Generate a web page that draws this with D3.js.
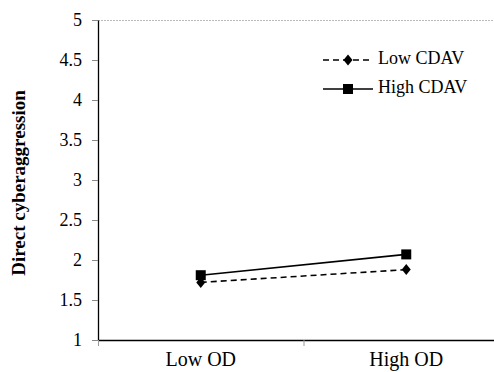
<!DOCTYPE html>
<html><head><meta charset="utf-8">
<script src="https://cdn.jsdelivr.net/npm/d3@7"></script>
<style>body{margin:0;background:#fff}svg{display:block}text{font-family:"Liberation Serif","Times New Roman",serif;fill:#000}</style>
</head><body><svg id="c" width="494" height="372"></svg>
<script>
const categories = ["Low OD", "High OD"];
const seriesNames = ["Low CDAV", "High CDAV"];
const lowCDAV = [1.72, 1.88];
const highCDAV = [1.81, 2.07];
const yTicks = [1, 1.5, 2, 2.5, 3, 3.5, 4, 4.5, 5];
const yTitle = "Direct cyberaggression";

const svg = d3.select("#c");
const L = 98, R = 509, T = 20, B = 340;
const x = d3.scaleBand().domain(categories).range([L, R]);
const y = d3.scaleLinear().domain([1, 5]).range([B, T]);

// top dotted border
svg.append("line").attr("x1", L).attr("x2", 494).attr("y1", y(5)+0.5).attr("y2", y(5)+0.5)
  .attr("stroke", "#bbb").attr("stroke-dasharray", "2,1");

// y axis
const ya = svg.append("g").attr("transform", `translate(${L},0)`)
  .call(d3.axisLeft(y).tickValues(yTicks).tickFormat(d3.format("")).tickSize(6).tickSizeOuter(0));
ya.select(".domain").attr("stroke", "#000").attr("stroke-width", 1.3);
ya.selectAll(".tick line").attr("stroke", "#888");
ya.selectAll(".tick text").attr("x", -16).style("font-size", "18px").style("font-family", "'Liberation Serif',serif");

// x axis
const xa = svg.append("g").attr("transform", `translate(0,${B})`)
  .call(d3.axisBottom(x).tickSize(0).tickSizeOuter(0));
xa.select(".domain").attr("stroke", "#000").attr("stroke-width", 1.3);
xa.selectAll(".tick text").attr("y", 12).style("font-size", "20px").style("font-family", "'Liberation Serif',serif");
// boundary ticks
const bounds = [x(categories[0]), x(categories[1])];
svg.selectAll(".bt").data(bounds).enter().append("line")
  .attr("x1", d => d + 0.5).attr("x2", d => d + 0.5).attr("y1", B).attr("y2", B + 6).attr("stroke", "#999");

// y title
svg.append("text").attr("transform", `translate(21,${(T + B) / 2 + 3}) rotate(-90)`)
  .attr("text-anchor", "middle").attr("dominant-baseline", "middle")
  .style("font-size", "19px").style("font-weight", "bold").text(yTitle);

const cx = c => x(c) + x.bandwidth() / 2;
const line = d3.line().x(d => cx(d.c)).y(d => y(d.v));
const lowData = categories.map((c, i) => ({c, v: lowCDAV[i]}));
const highData = categories.map((c, i) => ({c, v: highCDAV[i]}));

svg.append("path").datum(lowData).attr("d", line).attr("fill", "none").attr("stroke", "#000")
  .attr("stroke-width", 1.6).attr("stroke-dasharray", "6,4");
svg.append("path").datum(highData).attr("d", line).attr("fill", "none").attr("stroke", "#000")
  .attr("stroke-width", 1.6);

const diamond = "M0,-5.5L4.5,0L0,5.5L-4.5,0Z";
const square = d3.symbol().type(d3.symbolSquare).size(100)();
svg.selectAll(".dm").data(lowData).enter().append("path")
  .attr("transform", d => `translate(${cx(d.c)},${y(d.v)})`).attr("d", diamond).attr("fill", "#000");
svg.selectAll(".sq").data(highData).enter().append("path")
  .attr("transform", d => `translate(${cx(d.c)},${y(d.v)})`).attr("d", square).attr("fill", "#000");

// legend
const lg = svg.append("g");
const items = [{name: seriesNames[0], dash: "6,4", sym: diamond, y: 60}, {name: seriesNames[1], dash: null, sym: square, y: 89}];
items.forEach(it => {
  lg.append("line").attr("x1", 323).attr("x2", 373).attr("y1", it.y).attr("y2", it.y)
    .attr("stroke", "#000").attr("stroke-width", 1.6).attr("stroke-dasharray", it.dash);
  lg.append("path").attr("transform", `translate(348,${it.y})`).attr("d", it.sym).attr("fill", "#000");
  lg.append("text").attr("x", 378).attr("y", it.y).attr("dominant-baseline", "middle")
    .style("font-size", "18px").text(it.name);
});
</script></body></html>
